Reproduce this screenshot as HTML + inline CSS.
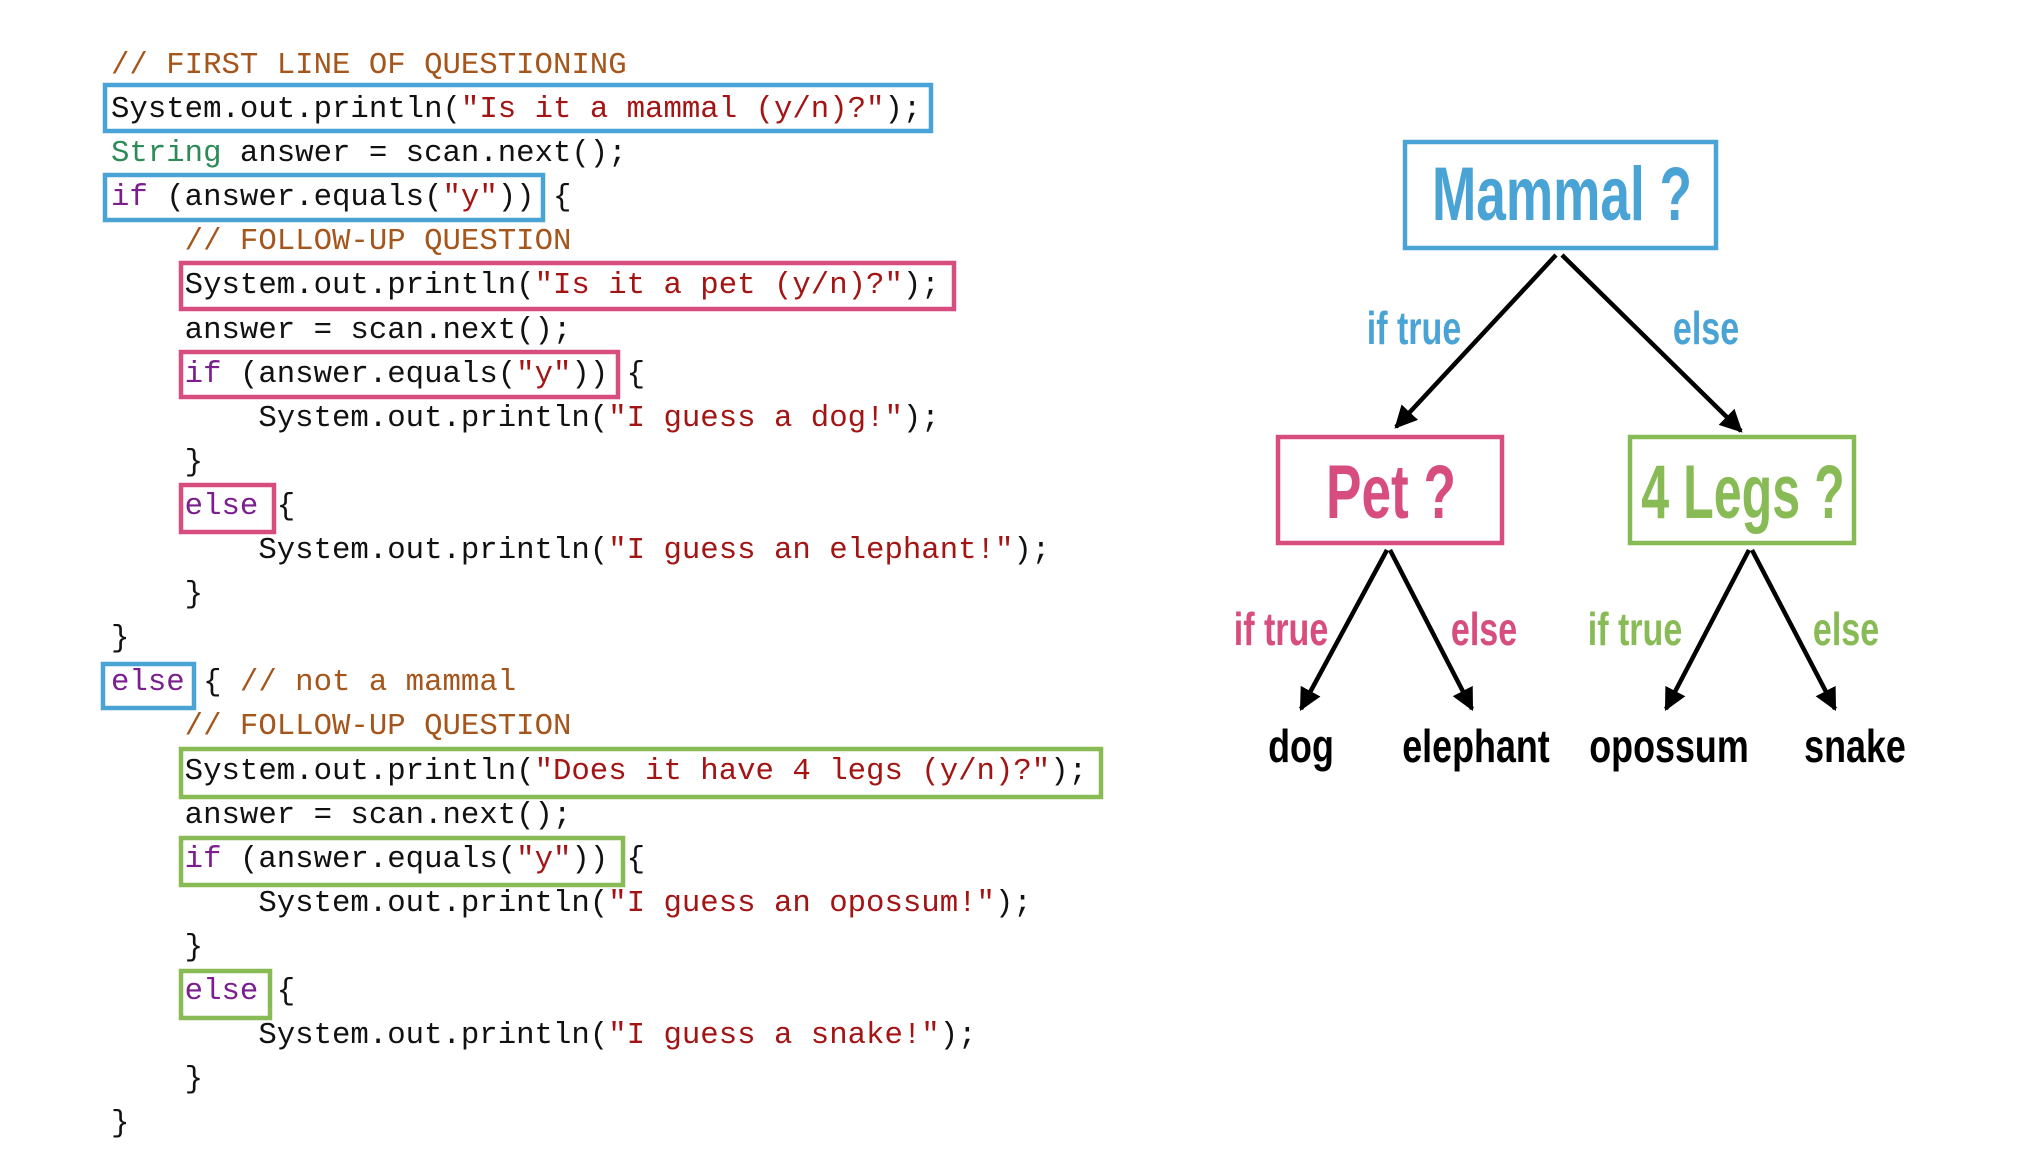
<!DOCTYPE html>
<html><head><meta charset="utf-8"><style>
html,body{margin:0;padding:0;background:#fff;width:2018px;height:1172px;overflow:hidden;position:relative}
pre{position:absolute;left:111px;top:44px;margin:0;font-family:"Liberation Mono",monospace;font-size:30.7px;line-height:44.1px;color:#111}
.c{color:#a5561c}.s{color:#a31515}.k{color:#7b1f8f}.t{color:#2e8b57}
svg{position:absolute;left:0;top:0}
</style></head><body>
<pre><span class="c">// FIRST LINE OF QUESTIONING</span>
System.out.println(<span class="s">"Is it a mammal (y/n)?"</span>);
<span class="t">String</span> answer = scan.next();
<span class="k">if</span> (answer.equals(<span class="s">"y"</span>)) {
    <span class="c">// FOLLOW-UP QUESTION</span>
    System.out.println(<span class="s">"Is it a pet (y/n)?"</span>);
    answer = scan.next();
    <span class="k">if</span> (answer.equals(<span class="s">"y"</span>)) {
        System.out.println(<span class="s">"I guess a dog!"</span>);
    }
    <span class="k">else</span> {
        System.out.println(<span class="s">"I guess an elephant!"</span>);
    }
}
<span class="k">else</span> { <span class="c">// not a mammal</span>
    <span class="c">// FOLLOW-UP QUESTION</span>
    System.out.println(<span class="s">"Does it have 4 legs (y/n)?"</span>);
    answer = scan.next();
    <span class="k">if</span> (answer.equals(<span class="s">"y"</span>)) {
        System.out.println(<span class="s">"I guess an opossum!"</span>);
    }
    <span class="k">else</span> {
        System.out.println(<span class="s">"I guess a snake!"</span>);
    }
}</pre>
<svg width="2018" height="1172" viewBox="0 0 2018 1172">
<defs><marker id="a" viewBox="0 0 10 10" refX="9" refY="5" markerWidth="5" markerHeight="5" orient="auto"><path d="M0,0 L10,5 L0,10 z" fill="#000"/></marker></defs>
<g fill="none" stroke-width="4.5">
<rect x="105" y="85" width="826" height="46" stroke="#4aa3d5"/>
<rect x="105" y="175" width="438" height="45" stroke="#4aa3d5"/>
<rect x="181" y="263" width="773" height="46" stroke="#d64d7e"/>
<rect x="181" y="352" width="437" height="45" stroke="#d64d7e"/>
<rect x="181" y="485" width="93" height="47" stroke="#d64d7e"/>
<rect x="103" y="664" width="91" height="44" stroke="#4aa3d5"/>
<rect x="181" y="749" width="920" height="48" stroke="#88bb55"/>
<rect x="181" y="838" width="442" height="47" stroke="#88bb55"/>
<rect x="181" y="971" width="89" height="47" stroke="#88bb55"/>
</g>
<g transform="translate(-5,0)">
<g fill="none" stroke-width="4.5">
<rect x="1410" y="142" width="311" height="106" stroke="#4aa3d5"/>
<rect x="1283" y="437" width="224" height="106" stroke="#d64d7e"/>
<rect x="1635" y="437" width="224" height="106" stroke="#88bb55"/>
</g>
<g stroke="#000" stroke-width="4.5" marker-end="url(#a)">
<line x1="1561" y1="255" x2="1401" y2="427"/>
<line x1="1567" y1="255" x2="1746" y2="431"/>
<line x1="1392" y1="550" x2="1306" y2="709"/>
<line x1="1395" y1="550" x2="1477" y2="709"/>
<line x1="1754" y1="550" x2="1671" y2="709"/>
<line x1="1757" y1="550" x2="1840" y2="709"/>
</g>
<g font-family="Liberation Sans, sans-serif" font-weight="bold" text-anchor="middle">
<text transform="translate(1567,220) scale(0.7,1)" font-size="76" fill="#4aa3d5">Mammal ?</text>
<text transform="translate(1396,518) scale(0.7,1)" font-size="76" fill="#d64d7e">Pet ?</text>
<text transform="translate(1748,518) scale(0.66,1)" font-size="76" fill="#88bb55">4 Legs ?</text>
<g font-size="46">
<text transform="translate(1419,344) scale(0.74,1)" fill="#4aa3d5">if true</text>
<text transform="translate(1711,344) scale(0.74,1)" fill="#4aa3d5">else</text>
<text transform="translate(1286,645) scale(0.74,1)" fill="#d64d7e">if true</text>
<text transform="translate(1489,645) scale(0.74,1)" fill="#d64d7e">else</text>
<text transform="translate(1640,645) scale(0.74,1)" fill="#88bb55">if true</text>
<text transform="translate(1851,645) scale(0.74,1)" fill="#88bb55">else</text>
<g fill="#000">
<text transform="translate(1306,762) scale(0.78,1)">dog</text>
<text transform="translate(1481,762) scale(0.78,1)">elephant</text>
<text transform="translate(1674,762) scale(0.78,1)">opossum</text>
<text transform="translate(1860,762) scale(0.78,1)">snake</text>
</g></g></g></g>
</svg>
</body></html>
